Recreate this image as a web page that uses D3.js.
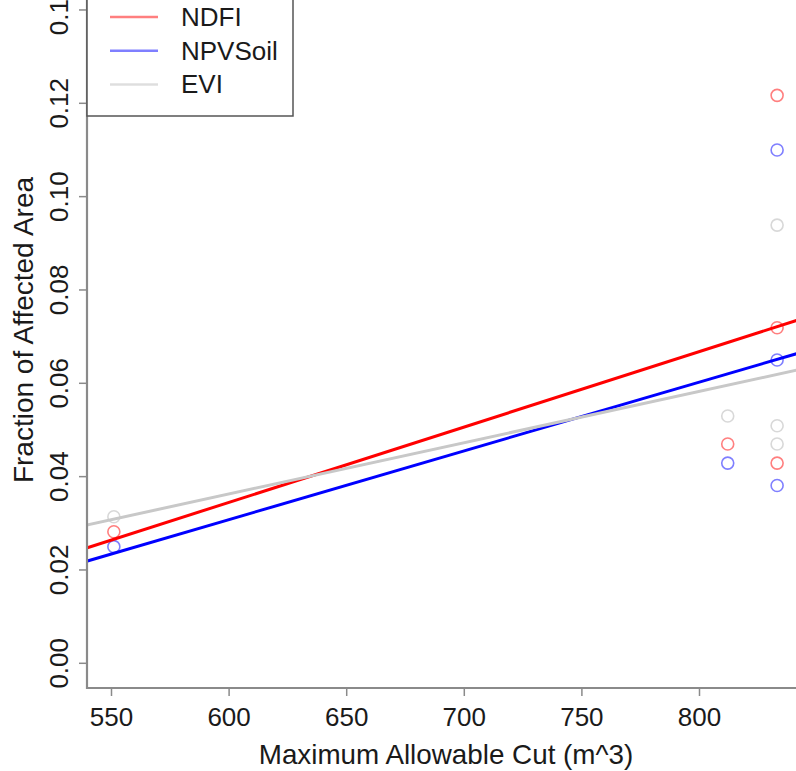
<!DOCTYPE html>
<html><head><meta charset="utf-8">
<script src="https://cdn.jsdelivr.net/npm/d3@7"></script>
<style>body{margin:0;background:#fff}svg{display:block}text{font-family:"Liberation Sans",Arial,Helvetica,sans-serif;fill:#1a1a1a}</style>
</head><body><div id="chart"></div>
<script>
const cutValues = [551, 812, 833, 833, 833];
const seriesNames = ["NDFI", "NPVSoil", "EVI"];
const ndfi    = [0.0282, 0.0470, 0.1217, 0.0719, 0.0429];
const npvSoil = [0.0250, 0.0429, 0.1100, 0.0650, 0.0381];
const evi     = [0.0314, 0.0530, 0.0939, 0.0509, 0.0470];
const xTicks = [550, 600, 650, 700, 750, 800];
const yTicks = [0.00, 0.02, 0.04, 0.06, 0.08, 0.10, 0.12, 0.14];

const W = 796, H = 771;
const lineColors = ["#ff0000", "#0000ff", "#c8c8c8"];
const pointColors = ["rgba(255,0,0,0.5)", "rgba(0,0,255,0.5)", "rgba(200,200,200,0.7)"];
const legendColors = ["rgba(255,0,0,0.5)", "rgba(0,0,255,0.5)", "rgba(200,200,200,0.6)"];
const seriesData = [ndfi, npvSoil, evi];

const plotLeft = 87, plotBottom = 688;
const x = d3.scaleLinear().domain([550, 800]).range([111.5, 699.5]);
const y = d3.scaleLinear().domain([0, 0.12]).range([663.3, 103.3]);

const svg = d3.select("#chart").append("svg").attr("width", W).attr("height", H);
svg.append("defs").append("clipPath").attr("id", "plotclip")
  .append("rect").attr("x", plotLeft).attr("y", -50).attr("width", W + 50 - plotLeft).attr("height", plotBottom + 50);

const plot = svg.append("g").attr("clip-path", "url(#plotclip)");

// linear regression fits from data
function fit(xs, ys) {
  const mx = d3.mean(xs), my = d3.mean(ys);
  let sxy = 0, sxx = 0;
  xs.forEach((v, i) => { sxy += (v - mx) * (ys[i] - my); sxx += (v - mx) * (v - mx); });
  const b = sxy / sxx; return { a: my - b * mx, b };
}
const xLo = x.invert(plotLeft - 5), xHi = x.invert(W + 20);

// points
seriesData.forEach((vals, s) => {
  plot.selectAll(null).data(vals.map((v, i) => [cutValues[i], v])).enter().append("circle")
    .attr("cx", d => x(d[0])).attr("cy", d => y(d[1])).attr("r", 6)
    .attr("fill", "none").attr("stroke", pointColors[s]).attr("stroke-width", 1.6);
});
// regression lines
seriesData.forEach((vals, s) => {
  const f = fit(cutValues, vals);
  plot.append("line")
    .attr("x1", x(xLo)).attr("y1", y(f.a + f.b * xLo))
    .attr("x2", x(xHi)).attr("y2", y(f.a + f.b * xHi))
    .attr("stroke", lineColors[s]).attr("stroke-width", 3);
});

// axes lines
const axisColor = "#8a8a8a";
svg.append("line").attr("x1", plotLeft).attr("x2", W).attr("y1", plotBottom).attr("y2", plotBottom)
  .attr("stroke", axisColor).attr("stroke-width", 2.2);
svg.append("line").attr("x1", plotLeft).attr("x2", plotLeft).attr("y1", 0).attr("y2", plotBottom + 1)
  .attr("stroke", axisColor).attr("stroke-width", 2.2);

// x axis ticks
const xAxis = svg.append("g");
xTicks.forEach(t => {
  xAxis.append("line").attr("x1", x(t)).attr("x2", x(t)).attr("y1", plotBottom).attr("y2", plotBottom + 8)
    .attr("stroke", axisColor).attr("stroke-width", 1.5);
  xAxis.append("text").attr("x", x(t)).attr("y", 726).attr("text-anchor", "middle")
    .attr("font-size", 26).text(d3.format("d")(t));
});
// y axis ticks
const yAxis = svg.append("g");
yTicks.forEach(t => {
  yAxis.append("line").attr("x1", plotLeft - 8).attr("x2", plotLeft).attr("y1", y(t)).attr("y2", y(t))
    .attr("stroke", axisColor).attr("stroke-width", 1.5);
  yAxis.append("text").attr("transform", `translate(68,${y(t)}) rotate(-90)`).attr("text-anchor", "middle")
    .attr("font-size", 26).text(d3.format(".2f")(t));
});

// axis titles
svg.append("text").attr("x", 446).attr("y", 764).attr("text-anchor", "middle").attr("font-size", 27.8)
  .text("Maximum Allowable Cut (m^3)");
svg.append("text").attr("transform", "translate(33,330) rotate(-90)").attr("text-anchor", "middle")
  .attr("font-size", 28).text("Fraction of Affected Area");

// legend
const leg = svg.append("g");
leg.append("rect").attr("x", plotLeft).attr("y", -20).attr("width", 293 - plotLeft).attr("height", 116 + 20)
  .attr("fill", "#fff").attr("stroke", "#555").attr("stroke-width", 1.5);
seriesNames.forEach((n, i) => {
  const ly = 17 + i * 33.7;
  leg.append("line").attr("x1", 110).attr("x2", 158).attr("y1", ly).attr("y2", ly)
    .attr("stroke", legendColors[i]).attr("stroke-width", 2.5);
  leg.append("text").attr("x", 181).attr("y", ly + 9).attr("font-size", 26).text(n);
});
</script></body></html>
